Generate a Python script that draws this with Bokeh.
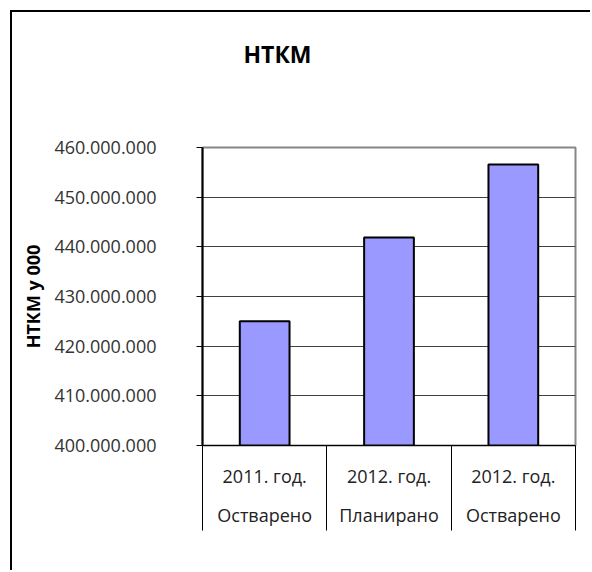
from bokeh.plotting import figure
from bokeh.models import FixedTicker, LinearAxis, Range1d, Title
from bokeh.embed import file_html
from bokeh.resources import INLINE

# ---- data ----
years = ["2011. год.", "2012. год.", "2012. год."]
status = ["Остварено", "Планирано", "Остварено"]
values = [425_000_000, 441_900_000, 456_600_000]
y_ticks = [400_000_000, 410_000_000, 420_000_000, 430_000_000,
           440_000_000, 450_000_000, 460_000_000]
title_text = "НТКМ"
y_label = "НТКМ у 000"

FONT = "Open Sans"
n = len(values)
centers = [i + 0.5 for i in range(n)]
bounds = [float(i) for i in range(n + 1)]

p = figure(width=580, height=560, output_backend="svg", toolbar_location=None,
           title=None,
           x_range=Range1d(0, n), y_range=Range1d(y_ticks[0], y_ticks[-1]),
           x_axis_location=None,
           min_border_left=190, min_border_right=17,
           min_border_top=135, min_border_bottom=127)
p.styles = {"border-left": "2px solid #000000", "border-top": "2px solid #000000",
            "margin-left": "10px", "margin-top": "10px"}

# invisible spacer axis between frame and title
spacer = LinearAxis(ticker=FixedTicker(ticks=[centers[0]], minor_ticks=[]))
spacer.major_label_overrides = {centers[0]: ""}
spacer.axis_line_color = None
spacer.major_tick_line_color = None
spacer.minor_tick_line_color = None
spacer.major_tick_out = 73
spacer.major_tick_in = 0
spacer.major_label_standoff = 0
p.add_layout(spacer, "above")

p.add_layout(Title(text=title_text, align="left", offset=41, standoff=10,
                   text_font=FONT, text_font_size="23px", text_font_style="bold",
                   text_color="#000000"), "above")

p.background_fill_color = "white"
p.border_fill_color = "white"
p.outline_line_color = "#868686"
p.outline_line_width = 2

# y axis
ya = p.yaxis[0]
ya.ticker = FixedTicker(ticks=y_ticks, minor_ticks=[])
ya.major_label_overrides = {v: f"{v:,}".replace(",", ".") for v in y_ticks}
ya.major_label_text_font = FONT
ya.major_label_text_font_size = "18px"
ya.major_label_text_color = "#333333"
ya.major_label_standoff = 40
ya.major_tick_out = 6
ya.major_tick_in = 0
ya.major_tick_line_color = "#000000"
ya.axis_line_color = "#000000"
ya.axis_line_width = 2
ya.axis_label = y_label
ya.axis_label_text_font = FONT
ya.axis_label_text_font_size = "18px"
ya.axis_label_text_font_style = "bold"
ya.axis_label_text_color = "#000000"
ya.axis_label_standoff = 6

p.ygrid.grid_line_color = "#404040"
p.ygrid.grid_line_width = 1
p.xgrid.visible = False

# x axis 1: year labels + category separators (minor ticks)
xa1 = LinearAxis(ticker=FixedTicker(ticks=centers, minor_ticks=bounds))
xa1.major_label_overrides = {c: y for c, y in zip(centers, years)}
xa1.major_tick_out = 0
xa1.major_tick_in = 0
xa1.minor_tick_out = 85
xa1.minor_tick_in = 0
xa1.minor_tick_line_color = "#000000"
xa1.axis_line_color = "#000000"
xa1.axis_line_width = 1
xa1.major_label_standoff = -67
xa1.major_label_text_font = FONT
xa1.major_label_text_font_size = "18px"
xa1.major_label_text_color = "#222222"
p.add_layout(xa1, "below")

# x axis 2: status labels
xa2 = LinearAxis(ticker=FixedTicker(ticks=centers, minor_ticks=[]))
xa2.major_label_overrides = {c: s for c, s in zip(centers, status)}
xa2.axis_line_color = None
xa2.major_tick_line_color = None
xa2.minor_tick_line_color = None
xa2.major_label_standoff = 6
xa2.major_label_text_font = FONT
xa2.major_label_text_font_size = "18px"
xa2.major_label_text_color = "#222222"
p.add_layout(xa2, "below")

p.vbar(x=centers, top=values, bottom=y_ticks[0], width=0.4,
       fill_color="#9999FF", line_color="#000000", line_width=2)

open("out.html", "w").write(file_html(p, INLINE))
